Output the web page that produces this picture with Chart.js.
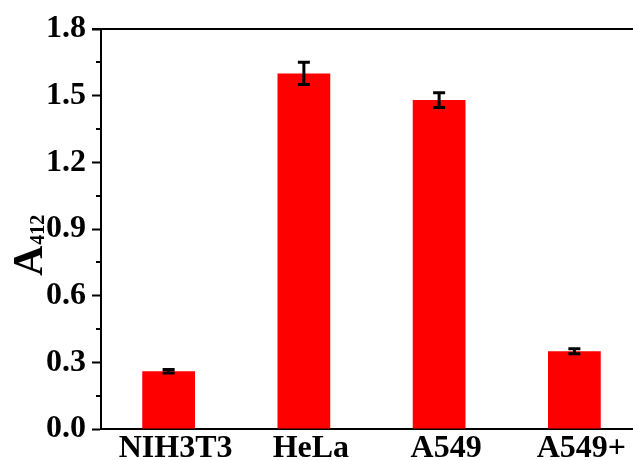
<!DOCTYPE html>
<html>
<head>
<meta charset="utf-8">
<script src="https://cdn.jsdelivr.net/npm/chart.js@4"></script>
<style>
    html, body { margin: 0; padding: 0; background: #fff; overflow: hidden; }
    #wrap { width: 642px; height: 460px; position: relative; }
</style>
</head>
<body>
<div id="wrap"><canvas id="barChart"></canvas></div>
<script>
const cellLines = ['NIH3T3', 'HeLa', 'A549', 'A549+'];
const absorbance = [0.26, 1.60, 1.48, 0.35];
const errors = [0.008, 0.05, 0.033, 0.011];
const yTicks = [0.0, 0.3, 0.6, 0.9, 1.2, 1.5, 1.8];

const fontFamily = '"Liberation Serif", "Times New Roman", serif';

// error bars, top frame line, minor ticks and the A412 title
const extrasPlugin = {
    id: 'extras',
    afterDatasetsDraw(chart) {
        const ctx = chart.ctx;
        const x = chart.scales.x;
        const y = chart.scales.y;
        const area = chart.chartArea;
        ctx.save();
        ctx.strokeStyle = '#000';

        // error bars
        ctx.lineWidth = 3;
        absorbance.forEach((v, i) => {
            const cx = x.getPixelForValue(i);
            const top = y.getPixelForValue(v + errors[i]);
            const bot = y.getPixelForValue(v - errors[i]);
            ctx.beginPath();
            ctx.moveTo(cx, top);
            ctx.lineTo(cx, bot);
            ctx.moveTo(cx - 6, top);
            ctx.lineTo(cx + 6, top);
            ctx.moveTo(cx - 6, bot);
            ctx.lineTo(cx + 6, bot);
            ctx.stroke();
        });

        // top frame
        ctx.lineWidth = 2;
        ctx.beginPath();
        ctx.moveTo(area.left - 9, area.top);
        ctx.lineTo(area.right, area.top);
        ctx.stroke();

        // minor ticks on y
        for (let k = 0; k < yTicks.length - 1; k++) {
            const py = Math.round(y.getPixelForValue((yTicks[k] + yTicks[k + 1]) / 2));
            ctx.beginPath();
            ctx.moveTo(area.left - 5, py);
            ctx.lineTo(area.left, py);
            ctx.stroke();
        }

        // y title A412
        ctx.fillStyle = '#000';
        ctx.translate(42, 276);
        ctx.rotate(-Math.PI / 2);
        ctx.textAlign = 'left';
        ctx.textBaseline = 'alphabetic';
        ctx.font = 'bold 42px ' + fontFamily;
        ctx.fillText('A', 0, 0);
        const wA = ctx.measureText('A').width;
        ctx.font = 'bold 20px ' + fontFamily;
        ctx.fillText('412', wA + 1, 2);
        ctx.restore();
    }
};

const ctx = document.getElementById('barChart').getContext('2d');
const chart = new Chart(ctx, {
    type: 'bar',
    data: {
        labels: cellLines,
        datasets: [{
            data: absorbance,
            backgroundColor: '#ff0000',
            borderWidth: 0,
            barPercentage: 0.39,
            categoryPercentage: 1.0
        }]
    },
    options: {
        responsive: true,
        maintainAspectRatio: false,
        animation: false,
        layout: { padding: { top: 29, left: 0, right: 0, bottom: 0 } },
        plugins: {
            legend: { display: false },
            tooltip: { enabled: false }
        },
        scales: {
            x: {
                offset: true,
                grid: { display: false, drawTicks: false },
                border: { display: true, color: '#000', width: 2 },
                ticks: {
                    color: '#000',
                    padding: 4,
                    labelOffset: 7,
                    font: { family: fontFamily, size: 32, weight: 'bold', lineHeight: 1.0 }
                },
                afterFit(scale) { scale.height = 31; }
            },
            y: {
                min: 0,
                max: 1.8,
                afterBuildTicks(scale) {
                    scale.ticks = yTicks.map(v => ({ value: v }));
                },
                grid: {
                    drawOnChartArea: false,
                    drawTicks: true,
                    tickLength: 9,
                    tickWidth: 2,
                    tickColor: '#000'
                },
                border: { display: true, color: '#000', width: 2 },
                ticks: {
                    color: '#000',
                    padding: 6,
                    font: { family: fontFamily, size: 32, weight: 'bold' },
                    callback: v => Number(v).toFixed(1)
                },
                afterFit(scale) { scale.width = 101; }
            }
        }
    },
    plugins: [extrasPlugin]
});
</script>
</body>
</html>
